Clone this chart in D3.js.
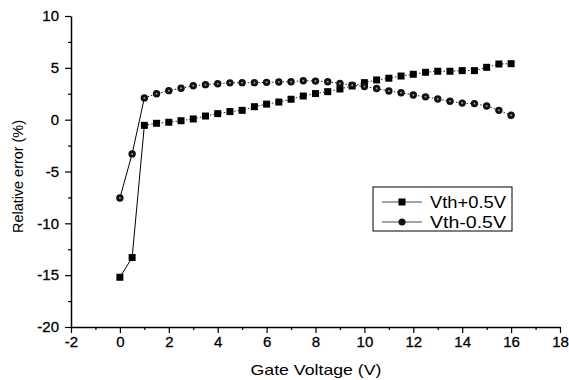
<!DOCTYPE html>
<html>
<head>
<meta charset="utf-8">
<script src="https://cdn.jsdelivr.net/npm/d3@7"></script>
<style>
  body { margin: 0; background: #fff; }
  text { font-family: "Liberation Sans", Arial, sans-serif; fill: #000; }
  .axis path, .axis line { stroke: #000; }
</style>
</head>
<body>
<svg id="chart"></svg>
<script>
const width = 569;
const height = 380;

// gate voltage steps (V)
const voltage = [0, 0.5, 1, 1.5, 2, 2.5, 3, 3.5, 4, 4.5, 5, 5.5, 6, 6.5, 7, 7.5, 8,
  8.5, 9, 9.5, 10, 10.5, 11, 11.5, 12, 12.5, 13, 13.5, 14, 14.5, 15, 15.5, 16];
// relative error (%) for Vth+0.5V
const errPlus = [-15.2, -13.3, -0.55, -0.35, -0.25, -0.1, 0.07, 0.35, 0.58, 0.78, 0.9,
  1.25, 1.5, 1.7, 1.97, 2.28, 2.52, 2.7, 2.96, 3.25, 3.57, 3.83, 4.0, 4.21, 4.38,
  4.57, 4.67, 4.67, 4.73, 4.73, 5.05, 5.37, 5.4];
// relative error (%) for Vth-0.5V
const errMinus = [-7.55, -3.3, 2.1, 2.5, 2.8, 3.03, 3.27, 3.38, 3.47, 3.55, 3.57,
  3.57, 3.6, 3.64, 3.66, 3.76, 3.72, 3.66, 3.5, 3.33, 3.2, 3.0, 2.77, 2.6, 2.38,
  2.2, 2.0, 1.77, 1.6, 1.55, 1.32, 0.9, 0.42];

const seriesNames = ["Vth+0.5V", "Vth-0.5V"];
const xTicks = [-2, 0, 2, 4, 6, 8, 10, 12, 14, 16, 18];
const xMinor = [-1, 1, 3, 5, 7, 9, 11, 13, 15, 17];
const yTicks = [-20, -15, -10, -5, 0, 5, 10];
const yMinor = [-17.5, -12.5, -7.5, -2.5, 2.5, 7.5];

const margin = { top: 16, right: 9, bottom: 53, left: 71 };

const svg = d3.select("svg#chart")
  .attr("width", width)
  .attr("height", height);

const x = d3.scaleLinear()
  .domain([-2, 18])
  .range([margin.left, width - margin.right]);
const y = d3.scaleLinear()
  .domain([-20, 10])
  .range([height - margin.bottom, margin.top]);

// minor ticks first, then major axes on top
svg.append("g")
  .attr("class", "axis")
  .attr("transform", "translate(0," + (height - margin.bottom) + ")")
  .call(d3.axisBottom(x).tickValues(xMinor).tickSize(3).tickFormat("").tickSizeOuter(0))
  .select(".domain").remove();
svg.append("g")
  .attr("class", "axis")
  .attr("transform", "translate(" + margin.left + ",0)")
  .call(d3.axisLeft(y).tickValues(yMinor).tickSize(3).tickFormat("").tickSizeOuter(0))
  .select(".domain").remove();

svg.append("g")
  .attr("class", "axis")
  .attr("transform", "translate(0," + (height - margin.bottom) + ")")
  .call(d3.axisBottom(x).tickValues(xTicks).tickSize(6).tickSizeOuter(0)
    .tickPadding(3).tickFormat(d => String(d)));
svg.append("g")
  .attr("class", "axis")
  .attr("transform", "translate(" + margin.left + ",0)")
  .call(d3.axisLeft(y).tickValues(yTicks).tickSize(6).tickSizeOuter(0)
    .tickPadding(6).tickFormat(d => String(d)));

svg.selectAll(".axis text")
  .style("font-size", "15px")
  .attr("stroke", "#000")
  .attr("stroke-width", 0.3);
svg.selectAll(".axis path.domain").attr("stroke-width", 1.5);
svg.selectAll(".axis line").attr("stroke-width", 1.2);

// axis titles
svg.append("text")
  .text("Gate Voltage (V)")
  .attr("x", (x.range()[0] + x.range()[1]) / 2 - 65)
  .attr("y", height - 5)
  .attr("textLength", 131)
  .attr("lengthAdjust", "spacingAndGlyphs")
  .style("font-size", "15px");

svg.append("g")
  .attr("transform", "translate(23," + 233 + ")")
  .append("text")
  .text("Relative error (%)")
  .attr("textLength", 113)
  .attr("lengthAdjust", "spacingAndGlyphs")
  .attr("transform", "rotate(-90)")
  .style("font-size", "15px");

// data lines: steep first segments are solid, the rest dotted
const series = [
  { name: seriesNames[0], values: errPlus, shape: "square" },
  { name: seriesNames[1], values: errMinus, shape: "circle" }
];

const line = d3.line()
  .x(d => x(d[0]))
  .y(d => y(d[1]));

series.forEach(s => {
  const pts = voltage.map((v, i) => [v, s.values[i]]);
  svg.append("path")
    .attr("d", line(pts.slice(0, 3)))
    .attr("fill", "none")
    .attr("stroke", "#000")
    .attr("stroke-width", 1);
  svg.append("path")
    .attr("d", line(pts.slice(2)))
    .attr("fill", "none")
    .attr("stroke", "#222")
    .attr("stroke-width", 1)
    .attr("stroke-dasharray", "1.5,2");

  const g = svg.append("g");
  if (s.shape === "square") {
    g.selectAll("rect")
      .data(pts)
      .enter()
      .append("rect")
      .attr("x", d => x(d[0]) - 3.5)
      .attr("y", d => y(d[1]) - 3.5)
      .attr("width", 7)
      .attr("height", 7)
      .attr("fill", "#000");
  } else {
    g.selectAll("circle.m")
      .data(pts)
      .enter()
      .append("circle")
      .attr("class", "m")
      .attr("cx", d => x(d[0]))
      .attr("cy", d => y(d[1]))
      .attr("r", 3.7)
      .attr("fill", "#111");
    g.selectAll("circle.c")
      .data(pts)
      .enter()
      .append("circle")
      .attr("class", "c")
      .attr("cx", d => x(d[0]))
      .attr("cy", d => y(d[1]))
      .attr("r", 1)
      .attr("fill", "#999");
  }
});

// legend
const legend = svg.append("g").attr("transform", "translate(373,187)");
legend.append("rect")
  .attr("width", 139)
  .attr("height", 44)
  .attr("fill", "#fff")
  .attr("stroke", "#000")
  .attr("stroke-width", 1);

series.forEach((s, i) => {
  const ly = 15 + i * 20;
  legend.append("line")
    .attr("x1", 9).attr("x2", 49)
    .attr("y1", ly).attr("y2", ly)
    .attr("stroke", "#444")
    .attr("stroke-width", 1);
  if (s.shape === "square") {
    legend.append("rect")
      .attr("x", 25.5).attr("y", ly - 3.5)
      .attr("width", 7).attr("height", 7)
      .attr("fill", "#000");
  } else {
    legend.append("circle")
      .attr("cx", 29).attr("cy", ly)
      .attr("r", 3.5)
      .attr("fill", "#111");
  }
  legend.append("text")
    .text(s.name)
    .attr("x", 57)
    .attr("y", ly)
    .attr("dy", "0.35em")
    .attr("textLength", 76)
    .attr("lengthAdjust", "spacingAndGlyphs")
    .style("font-size", "16px");
});
</script>
</body>
</html>
